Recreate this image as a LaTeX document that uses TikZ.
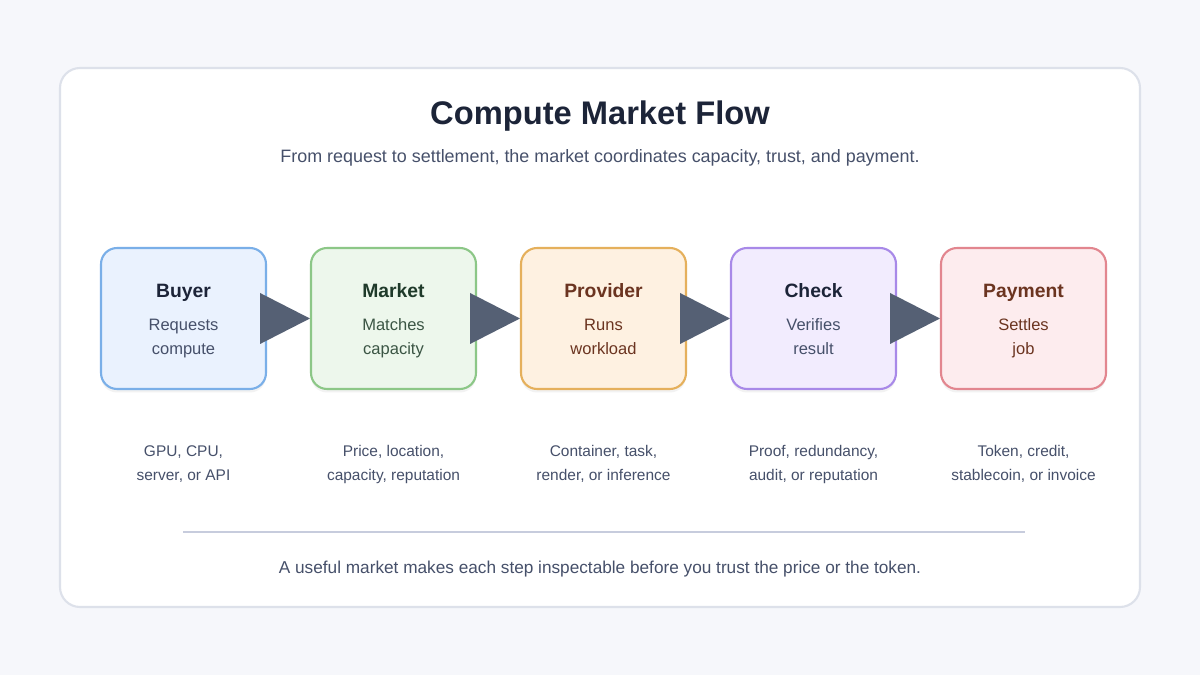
\documentclass[tikz,border=0pt]{standalone}
\usepackage{fontspec}
\setmainfont{Liberation Sans}
\usetikzlibrary{calc}
\definecolor{pagebg}{HTML}{F6F7FB}
\definecolor{cardline}{HTML}{DDE1EA}
\definecolor{inkdark}{HTML}{1C2438}
\definecolor{inkgrey}{HTML}{46506A}
\definecolor{arrowink}{HTML}{556074}
\definecolor{ruleink}{HTML}{C7CCDD}
\definecolor{buyerfill}{HTML}{EAF2FE}
\definecolor{buyerline}{HTML}{7AAFE8}
\definecolor{marketfill}{HTML}{EDF7EC}
\definecolor{marketline}{HTML}{8CC787}
\definecolor{marketink}{HTML}{1F3A2A}
\definecolor{marketbody}{HTML}{3B5544}
\definecolor{providerfill}{HTML}{FEF1E1}
\definecolor{providerline}{HTML}{E5B05C}
\definecolor{brownink}{HTML}{6B3420}
\definecolor{checkfill}{HTML}{F2ECFE}
\definecolor{checkline}{HTML}{A889E8}
\definecolor{paymentfill}{HTML}{FDECEE}
\definecolor{paymentline}{HTML}{E2868F}
\tikzset{
  stepbox/.style={rectangle,rounded corners=0.32cm,line width=1.2pt,
    minimum width=3.3cm,minimum height=2.82cm,
    preaction={fill=black,fill opacity=0.05,transform canvas={yshift=-2pt}}},
  steptitle/.style={font=\fontsize{11}{13}\selectfont\bfseries,text=inkdark,inner sep=1pt,anchor=base},
  stepbody/.style={font=\fontsize{9.4}{14}\selectfont,text=inkgrey,align=center,inner sep=0pt},
  stepnote/.style={font=\fontsize{8.8}{14.2}\selectfont,text=inkgrey,align=center,inner sep=0pt},
  flowarrow/.style={fill=arrowink}
}
\begin{document}
\begin{tikzpicture}[x=0.02cm,y=-0.02cm]
\useasboundingbox[fill=pagebg] (0,0) rectangle (1200,675);
\draw[cardline,fill=white,line width=1.2pt,rounded corners=0.4cm] (60,68) rectangle (1140,607);
\node[font=\fontsize{18.6}{22}\selectfont\bfseries,text=inkdark] (title) at (600,116) {Compute Market Flow};
\node[font=\fontsize{10.2}{12}\selectfont,text=inkgrey] (subtitle) at (600,158) {From request to settlement, the market coordinates capacity, trust, and payment.};
% steps
\node[stepbox,fill=buyerfill,draw=buyerline] (buyer) at (183.5,318.5) {};
\node[stepbox,fill=marketfill,draw=marketline] (market) at (393.5,318.5) {};
\node[stepbox,fill=providerfill,draw=providerline] (provider) at (603.5,318.5) {};
\node[stepbox,fill=checkfill,draw=checkline] (check) at (813.5,318.5) {};
\node[stepbox,fill=paymentfill,draw=paymentline] (payment) at (1023.5,318.5) {};
\node[steptitle] (buyerT) at (183.5,297.5) {Buyer};
\node[steptitle,text=marketink] (marketT) at (393.5,297.5) {Market};
\node[steptitle,text=brownink] (providerT) at (603.5,297.5) {Provider};
\node[steptitle] (checkT) at (813.5,297.5) {Check};
\node[steptitle,text=brownink] (paymentT) at (1023.5,297.5) {Payment};
\node[stepbody] (buyerB) at (183.5,337.5) {\strut Requests\\compute\strut};
\node[stepbody,text=marketbody] (marketB) at (393.5,337.5) {\strut Matches\\capacity\strut};
\node[stepbody,text=brownink] (providerB) at (603.5,337.5) {\strut Runs\\workload\strut};
\node[stepbody] (checkB) at (813.5,337.5) {\strut Verifies\\result\strut};
\node[stepbody,text=brownink] (paymentB) at (1023.5,337.5) {\strut Settles\\job\strut};
% arrows
\fill[flowarrow] ($(buyer.east)+(-7,-25.5)$) -- ($(buyer.east)+(-7,25.5)$) -- (market.west) -- cycle;
\fill[flowarrow] ($(market.east)+(-7,-25.5)$) -- ($(market.east)+(-7,25.5)$) -- (provider.west) -- cycle;
\fill[flowarrow] ($(provider.east)+(-7,-25.5)$) -- ($(provider.east)+(-7,25.5)$) -- (check.west) -- cycle;
\fill[flowarrow] ($(check.east)+(-7,-25.5)$) -- ($(check.east)+(-7,25.5)$) -- (payment.west) -- cycle;
% notes
\node[stepnote] (buyerN) at (183.5,463.5) {\strut GPU, CPU,\\server, or API\strut};
\node[stepnote] (marketN) at (393.5,463.5) {\strut Price, location,\\capacity, reputation\strut};
\node[stepnote] (providerN) at (603.5,463.5) {\strut Container, task,\\render, or inference\strut};
\node[stepnote] (checkN) at (813.5,463.5) {\strut Proof, redundancy,\\audit, or reputation\strut};
\node[stepnote] (paymentN) at (1023.5,463.5) {\strut Token, credit,\\stablecoin, or invoice\strut};
\draw[ruleink,line width=1.7pt] (183,532) -- (1025,532);
\node[font=\fontsize{9.8}{12}\selectfont,text=inkgrey] (footer) at (600,569) {A useful market makes each step inspectable before you trust the price or the token.};
\end{tikzpicture}
\end{document}
